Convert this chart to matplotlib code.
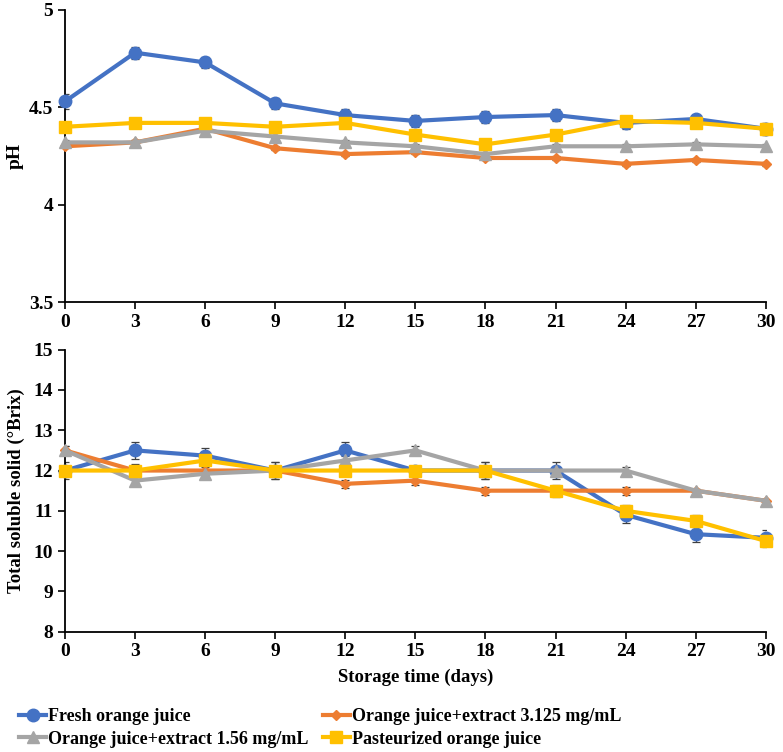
import numpy as np
import matplotlib
matplotlib.use("Agg")
import matplotlib.pyplot as plt

plt.rcParams["font.family"] = ["Liberation Serif", "DejaVu Serif"]
plt.rcParams["font.weight"] = "bold"

days = [0, 3, 6, 9, 12, 15, 18, 21, 24, 27, 30]
labels = ["Fresh orange juice", "Orange juice+extract 3.125 mg/mL",
          "Orange juice+extract 1.56 mg/mL", "Pasteurized orange juice"]

# pH
ph_fresh = [4.53, 4.78, 4.73, 4.52, 4.46, 4.43, 4.45, 4.46, 4.42, 4.44, 4.39]
ph_ext3 = [4.30, 4.32, 4.39, 4.29, 4.26, 4.27, 4.24, 4.24, 4.21, 4.23, 4.21]
ph_ext156 = [4.32, 4.32, 4.38, 4.35, 4.32, 4.30, 4.26, 4.30, 4.30, 4.31, 4.30]
ph_past = [4.40, 4.42, 4.42, 4.40, 4.42, 4.36, 4.31, 4.36, 4.43, 4.42, 4.39]
ph_err_fresh = [0.04, 0.03, 0.03, 0.03, 0.03, 0.03, 0.03, 0.03, 0.03, 0.02, 0.03]
ph_err_other = [0.01, 0.01, 0.01, 0.01, 0.01, 0.01, 0.01, 0.01, 0.01, 0.01, 0.01]
ph_err_past = [0.01, 0.01, 0.01, 0.01, 0.01, 0.01, 0.01, 0.01, 0.02, 0.02, 0.03]

# total soluble solids
tss_fresh = [12.0, 12.5, 12.37, 12.0, 12.5, 12.0, 12.0, 12.0, 10.9, 10.42, 10.33]
tss_ext3 = [12.5, 12.0, 12.0, 12.0, 11.67, 11.75, 11.5, 11.5, 11.5, 11.5, 11.25]
tss_ext156 = [12.5, 11.75, 11.92, 12.0, 12.25, 12.5, 12.0, 12.0, 12.0, 11.5, 11.25]
tss_past = [12.0, 12.0, 12.25, 12.0, 12.0, 12.0, 12.0, 11.5, 11.0, 10.75, 10.25]
tss_err_fresh = [0.2, 0.22, 0.2, 0.2, 0.22, 0.1, 0.2, 0.2, 0.2, 0.2, 0.2]
tss_err_other = [0.1, 0.1, 0.1, 0.1, 0.1, 0.1, 0.1, 0.1, 0.1, 0.05, 0.05]
tss_err_past = [0.1, 0.15, 0.1, 0.2, 0.1, 0.1, 0.2, 0.15, 0.15, 0.15, 0.15]

colors = ["#4472C4", "#ED7D31", "#A5A5A5", "#FFC000"]
markers = ["o", "D", "^", "s"]
msizes = [9, 5, 8, 9]


def style_axis(ax, ylim, yticks):
    ax.set_xlim(0, 30)
    ax.set_ylim(*ylim)
    ax.set_xticks(days)
    ax.set_yticks(yticks)
    ax.set_yticklabels([f"{t:g}" for t in yticks])
    for s in ["top", "right"]:
        ax.spines[s].set_visible(False)
    for s in ["left", "bottom"]:
        ax.spines[s].set_linewidth(1.3)
    ax.tick_params(direction="out", length=5, width=1.2, labelsize=14)
    for t in ax.get_xticklabels() + ax.get_yticklabels():
        t.set_fontweight("bold")


def draw(ax, series, errs):
    handles = []
    for vals, err, c, m, ms, lab in zip(series, errs, colors, markers, msizes, labels):
        ax.errorbar(days, vals, yerr=err, fmt="none", ecolor="#404040",
                    elinewidth=0.9, capsize=3, capthick=0.9, zorder=2)
        h, = ax.plot(days, vals, color=c, lw=3, marker=m, ms=ms,
                     label=lab, zorder=3, clip_on=False)
        handles.append(h)
    return handles


fig = plt.figure(figsize=(7.83, 7.52), dpi=100)
ax1 = fig.add_axes([0.083, 0.598, 0.895, 0.389])
ax2 = fig.add_axes([0.083, 0.160, 0.895, 0.375])

draw(ax1, [ph_fresh, ph_ext3, ph_ext156, ph_past],
     [ph_err_fresh, ph_err_other, ph_err_other, ph_err_past])
style_axis(ax1, (3.5, 5), [3.5, 4, 4.5, 5])
ax1.set_ylabel("pH", fontsize=14, fontweight="bold", labelpad=4)

handles = draw(ax2, [tss_fresh, tss_ext3, tss_ext156, tss_past],
               [tss_err_fresh, tss_err_other, tss_err_other, tss_err_past])
style_axis(ax2, (8, 15), list(range(8, 16)))
ax2.set_ylabel("Total soluble solid (°Brix)", fontsize=13.5, fontweight="bold", labelpad=6)
ax2.set_xlabel("Storage time (days)", fontsize=13.5, fontweight="bold", labelpad=6)

# legend fills column-wise: reorder so rows read fresh / 3.125, then 1.56 / pasteurized
order = [0, 2, 1, 3]
fig.legend(handles=[handles[i] for i in order], labels=[labels[i] for i in order],
           ncol=2, loc="upper left", bbox_to_anchor=(0.015, 0.068), frameon=False,
           handlelength=1.5, handletextpad=0.1, columnspacing=0.8,
           labelspacing=0.3, borderaxespad=0.0,
           prop={"weight": "bold", "size": 13})

fig.savefig("out.png", dpi=100)
